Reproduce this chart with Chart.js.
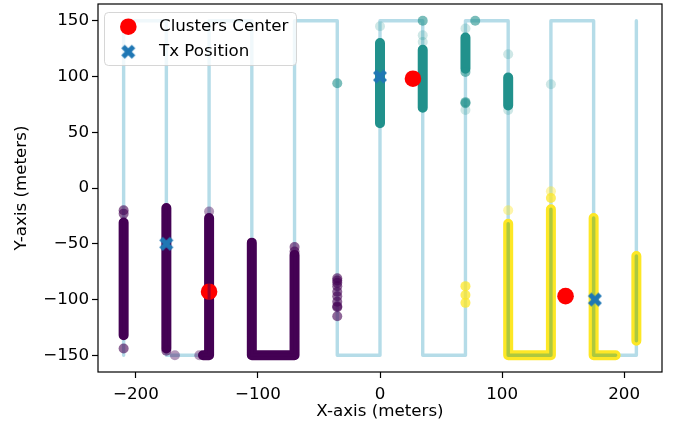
<!DOCTYPE html>
<html><head><meta charset="utf-8">
<script src="https://cdn.jsdelivr.net/npm/chart.js@4/dist/chart.umd.min.js"></script>
<style>html,body{margin:0;padding:0;background:#fff;}canvas{display:block;}</style>
</head><body>
<canvas id="c" width="677" height="427"></canvas>
<script>
// ---- data ----
const xTicks = [-200, -100, 0, 100, 200];
const yTicks = [-150, -100, -50, 0, 50, 100, 150];
const xLabel = 'X-axis (meters)';
const yLabel = 'Y-axis (meters)';
const legendLabels = ['Clusters Center', 'Tx Position'];

const pathVertices = [[-210,-150],[-210,150],[-175,150],[-175,-150],[-140,-150],[-140,150],[-105,150],[-105,-150],[-70,-150],[-70,150],[-35,150],[-35,-150],[0,-150],[0,150],[35,150],[35,-150],[70,-150],[70,150],[105,150],[105,-150],[140,-150],[140,150],[175,150],[175,-150],[210,-150],[210,150]];

const purpleRuns = [
  [[-210,-31],[-210,-132]],
  [[-175,-18],[-175,-144]],
  [[-140,-27],[-140,-150],[-145,-150]],
  [[-105,-49],[-105,-150],[-70,-150],[-70,-60]]
];
const purplePoints = [[-210,-20],[-210,-23],[-210,-144],[-175,-146],[-70,-53],[-70,-57],
  [-35,-81],[-35,-83],[-35,-85],[-35,-88],[-35,-93],[-35,-97],[-35,-102],[-35,-106],[-35,-107],[-35,-115]];
const purpleFaintPoints = [[-168,-150],[-148,-150],[-140,-21]];

const tealRuns = [
  [[0,58],[0,130]],
  [[35,72],[35,124]],
  [[70,107],[70,135]],
  [[105,74],[105,99]]
];
const tealPoints = [[-35,94],[35,150],[78,150],[70,104],[70,77],[70,76]];
const tealFaintPoints = [[0,145],[35,137],[35,131],[70,143],[70,70],[105,120],[105,70],[140,93]];

const yellowRuns = [
  [[105,-32],[105,-150],[140,-150],[140,-19]],
  [[175,-27],[175,-150],[193,-150]],
  [[210,-61],[210,-137]]
];
const yellowPoints = [[70,-88],[70,-96],[70,-103],[140,-9]];
const yellowFaintPoints = [[105,-20],[140,-3]];

const clusterCenters = [[-140,-93],[27,98],[152,-97]];
const txPositions = [[-175,-50],[0,100],[176,-100]];

// ---- helpers ----
const xy = arr => arr.map(([x, y]) => ({x, y}));
const runsData = runs => {
  const out = [];
  runs.forEach((r, i) => { if (i) out.push({x: null, y: null}); r.forEach(([x, y]) => out.push({x, y})); });
  return out;
};
const PURPLE = '68,1,84', TEAL = '33,145,140', YELLOW = '253,231,37';

function makeX(width, color) {
  const S = Math.ceil(width) + 2;
  const c = document.createElement('canvas');
  c.width = S; c.height = S;
  const g = c.getContext('2d');
  const L = width / 2 * Math.SQRT2 * 0.75, a = L / 3;
  g.translate(S / 2, S / 2); g.rotate(Math.PI / 4);
  g.beginPath();
  [[-a,-L],[a,-L],[a,-a],[L,-a],[L,a],[a,a],[a,L],[-a,L],[-a,a],[-L,a],[-L,-a],[-a,-a]].forEach(([px,py],i)=> i?g.lineTo(px,py):g.moveTo(px,py));
  g.closePath(); g.fillStyle = color; g.fill();
  return c;
}
const xMarker = makeX(14, '#1f77b4');

const runDS = (data, rgb, order, w, a) => ({type: 'line', data, showLine: true, spanGaps: false, pointRadius: 0,
  borderColor: `rgba(${rgb},${a})`, borderWidth: w, borderCapStyle: 'round', borderJoinStyle: 'round', order});
const ptDS = (data, rgb, a, order) => ({type: 'scatter', data, pointRadius: 5, pointBorderWidth: 0,
  backgroundColor: `rgba(${rgb},${a})`, borderColor: 'transparent', order});

const datasets = [
  {label: legendLabels[1], type: 'scatter', data: xy(txPositions), pointStyle: xMarker, pointRadius: 8, order: 0},
  runDS(runsData(yellowRuns), '120,180,80', 1, 3.5, 0.6),
  runDS(runsData(purpleRuns), PURPLE, 1, 3, 0.5),
  {label: legendLabels[0], type: 'scatter', data: xy(clusterCenters), pointRadius: 8.3, pointBorderWidth: 0, backgroundColor: '#ff0000', order: 2},
  ptDS(xy(purplePoints), PURPLE, 0.6, 3),
  ptDS(xy(purpleFaintPoints), PURPLE, 0.4, 3),
  ptDS(xy(tealPoints), TEAL, 0.6, 3),
  ptDS(xy(tealFaintPoints), TEAL, 0.22, 3),
  ptDS(xy(yellowPoints), YELLOW, 0.75, 3),
  ptDS(xy(yellowFaintPoints), YELLOW, 0.4, 3),
  runDS(runsData(purpleRuns), PURPLE, 4, 10, 1),
  runDS(runsData(tealRuns), TEAL, 4, 10, 1),
  runDS(runsData(yellowRuns), YELLOW, 4, 10, 1),
  runDS(xy(pathVertices), '173,216,230', 5, 3.4, 0.9)
];

const FONT = 'DejaVu Sans';
const FS = 16.7;
const minus = v => String(v).replace('-', '\u2212');

const framePlugin = {
  id: 'frameLegend',
  afterDatasetsDraw(chart) {
    const {ctx, chartArea: ca} = chart;
    ctx.save();
    ctx.strokeStyle = '#000'; ctx.lineWidth = 1.2;
    ctx.strokeRect(ca.left, ca.top, ca.right - ca.left, ca.bottom - ca.top);
    // legend box
    const bx = 104.5, by = 12.5, bw = 192, bh = 53, r = 4;
    ctx.beginPath();
    ctx.moveTo(bx + r, by); ctx.lineTo(bx + bw - r, by); ctx.arcTo(bx + bw, by, bx + bw, by + r, r);
    ctx.lineTo(bx + bw, by + bh - r); ctx.arcTo(bx + bw, by + bh, bx + bw - r, by + bh, r);
    ctx.lineTo(bx + r, by + bh); ctx.arcTo(bx, by + bh, bx, by + bh - r, r);
    ctx.lineTo(bx, by + r); ctx.arcTo(bx, by, bx + r, by, r); ctx.closePath();
    ctx.fillStyle = 'rgba(255,255,255,0.8)'; ctx.fill();
    ctx.strokeStyle = 'rgba(204,204,204,0.8)'; ctx.lineWidth = 1; ctx.stroke();
    ctx.beginPath(); ctx.arc(128.3, 26.7, 8.3, 0, Math.PI * 2); ctx.fillStyle = '#ff0000'; ctx.fill();
    ctx.drawImage(xMarker, 128.3 - xMarker.width / 2, 51.7 - xMarker.height / 2);
    ctx.fillStyle = '#000'; ctx.font = `${FS}px "${FONT}"`; ctx.textBaseline = 'middle'; ctx.textAlign = 'left';
    ctx.fillText(legendLabels[0], 159, 27);
    ctx.fillText(legendLabels[1], 159, 52);
    ctx.restore();
  }
};

const axisCommon = {
  type: 'linear',
  grid: {display: true, drawOnChartArea: false, drawTicks: true, tickLength: 6, tickColor: '#000', tickWidth: 1.2},
  border: {display: false},
  ticks: {color: '#000', font: {family: FONT, size: FS}, padding: 3, autoSkip: false, maxRotation: 0, callback: v => minus(v)}
};

new Chart(document.getElementById('c'), {
  data: {datasets},
  options: {
    responsive: false, animation: false, devicePixelRatio: 1,
    layout: {autoPadding: false, padding: {top: 4, right: 15, left: 0, bottom: 0}},
    plugins: {legend: {display: false}, tooltip: {enabled: false}},
    scales: {
      x: Object.assign({}, axisCommon, {
        position: 'bottom', min: -231, max: 231,
        ticks: Object.assign({}, axisCommon.ticks, {padding: 7}),
        afterBuildTicks: s => { s.ticks = xTicks.map(v => ({value: v})); },
        afterFit: s => { s.height = 55; s.paddingLeft = 0; s.paddingRight = 0; },
        title: {display: true, text: xLabel, color: '#000', font: {family: FONT, size: FS}, padding: {top: 0, bottom: 5}}
      }),
      y: Object.assign({}, axisCommon, {
        position: 'left', min: -165, max: 165,
        afterBuildTicks: s => { s.ticks = yTicks.map(v => ({value: v})); },
        afterFit: s => { s.width = 98; s.paddingTop = 0; s.paddingBottom = 0; },
        title: {display: true, text: yLabel, color: '#000', font: {family: FONT, size: FS}, padding: {top: 12, bottom: 0}}
      })
    }
  },
  plugins: [framePlugin]
});
</script>
</body></html>
